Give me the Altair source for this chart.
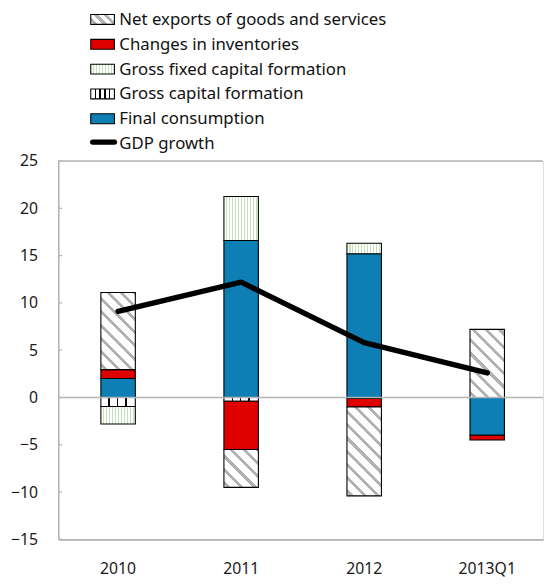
import math
import altair as alt
import pandas as pd

# ---------------- data ----------------
categories = ["2010", "2011", "2012", "2013Q1"]
final_consumption = [2.0, 16.6, 15.2, -4.0]
gross_capital_formation = [-0.95, -0.4, -0.1, 0.0]
gross_fixed_capital_formation = [-1.85, 4.65, 1.1, 0.0]
changes_in_inventories = [0.95, -5.1, -0.9, -0.5]
net_exports = [8.15, -4.0, -9.4, 7.2]
gdp_growth = [9.1, 12.2, 5.8, 2.6]
y_ticks = [-15, -10, -5, 0, 5, 10, 15, 20, 25]

series_names = [
    "Final consumption",
    "Gross capital formation",
    "Gross fixed capital formation",
    "Changes in inventories",
    "Net exports of goods and services",
]
series_values = [
    final_consumption,
    gross_capital_formation,
    gross_fixed_capital_formation,
    changes_in_inventories,
    net_exports,
]
legend_order = [
    "Net exports of goods and services",
    "Changes in inventories",
    "Gross fixed capital formation",
    "Gross capital formation",
    "Final consumption",
    "GDP growth",
]

# ---------------- layout / style ----------------
W, H = 492, 384
Y_MIN, Y_MAX = -15, 25
PX = H / (Y_MAX - Y_MIN)
P_IN, P_OUT, ALIGN = 0.72, 0.33, 0.525
STEP = W / (len(categories) - P_IN + 2 * P_OUT)
BAR_W = STEP * (1 - P_IN)
FONT = "Noto Sans"
AXIS_GRAY = "#b4b4b4"
BLUE = "#0d7fb5"
RED = "#e00000"


def stops_from_bands(bands, length, on, off):
    stops = [{"offset": 0, "color": off}]
    for s, e in bands:
        s0, e0 = max(0.0, s / length), min(1.0, e / length)
        if s0 >= 1:
            break
        stops += [
            {"offset": s0, "color": off},
            {"offset": s0, "color": on},
            {"offset": e0, "color": on},
            {"offset": e0, "color": off},
        ]
    stops.append({"offset": 1, "color": off})
    return stops


def diag_hatch(w, h, period=9.5, thick=3.0, color="#b3b3b3"):
    L = (w + h) / math.sqrt(2)
    bands = []
    k = 0
    while k * period < L:
        bands.append((k * period + 2.0, k * period + 2.0 + thick))
        k += 1
    kk = (w + h) / (w * w + h * h)
    return {
        "gradient": "linear",
        "x1": 0, "y1": 1, "x2": kk * w, "y2": 1 - kk * h,
        "stops": stops_from_bands(bands, L, color, "#ffffff"),
    }


def v_stripes(w, spacing, thick, color):
    bands = []
    x = spacing
    while x < w - 1:
        bands.append((x - thick / 2, x + thick / 2))
        x += spacing
    return {
        "gradient": "linear",
        "x1": 0, "y1": 0, "x2": 1, "y2": 0,
        "stops": stops_from_bands(bands, w, color, "#ffffff"),
    }


def fill_for(name, w, h, legend=False):
    if name == "Final consumption":
        return BLUE
    if name == "Changes in inventories":
        return RED
    if name == "Net exports of goods and services":
        return diag_hatch(w, h, period=7.0 if legend else 9.5)
    if name == "Gross capital formation":
        return v_stripes(w, 4.8 if legend else 8.5, 1.6, "#000000")
    if name == "Gross fixed capital formation":
        return v_stripes(w, 3.0, 1.2, "#c2e2b8")
    return "#ffffff"


# ---------------- stacked bar segments ----------------
rows = []
for ci, cat in enumerate(categories):
    pos, neg = 0.0, 0.0
    for si, name in enumerate(series_names):
        v = series_values[si][ci]
        if v == 0:
            continue
        if v > 0:
            y0, y1 = pos, pos + v
            pos = y1
        else:
            y0, y1 = neg, neg + v
            neg = y1
        rows.append({
            "category": cat, "series": name, "value": v,
            "y0": y0, "y1": y1,
            "fill": fill_for(name, BAR_W, abs(v) * PX),
        })

x_scale = alt.Scale(domain=categories, paddingInner=P_IN, paddingOuter=P_OUT, align=ALIGN)
y_scale = alt.Scale(domain=[Y_MIN, Y_MAX], nice=False, zero=False)

x_enc = alt.X(
    "category:N", sort=categories, scale=x_scale, title=None,
    axis=alt.Axis(labelAngle=0, ticks=False, domainColor=AXIS_GRAY, domainWidth=1.6,
                  labelFontSize=16, labelFont=FONT, labelColor="#1a1a1a", labelPadding=22),
)

bars = alt.Chart(alt.Data(values=rows)).mark_bar(stroke="black", strokeWidth=1.1).encode(
    x=x_enc,
    y=alt.Y("y0:Q", scale=y_scale, title=None,
            axis=alt.Axis(values=y_ticks, ticks=False, grid=False, domainColor=AXIS_GRAY,
                          domainWidth=1.6, labelFontSize=16, labelFont=FONT,
                          labelColor="#1a1a1a", labelPadding=21)),
    y2="y1:Q",
    fill=alt.Fill("fill:N", scale=None),
)

tick_df = pd.DataFrame({"v": y_ticks})
inner_ticks = alt.Chart(tick_df).mark_rule(color=AXIS_GRAY, strokeWidth=1.2).encode(
    y=alt.Y("v:Q", scale=y_scale), x=alt.value(0), x2=alt.value(4)
)

zero_line = alt.Chart(pd.DataFrame({"v": [0]})).mark_rule(color=AXIS_GRAY, strokeWidth=1.6).encode(
    y=alt.Y("v:Q", scale=y_scale), x=alt.value(0), x2=alt.value(W)
)

top_line = alt.Chart(pd.DataFrame({"v": [Y_MAX]})).mark_rule(color=AXIS_GRAY, strokeWidth=1.6).encode(
    y=alt.Y("v:Q", scale=y_scale), x=alt.value(0), x2=alt.value(W)
)

gdp_df = pd.DataFrame({"category": categories, "gdp": gdp_growth})
gdp_line = alt.Chart(gdp_df).mark_line(
    color="black", strokeWidth=5.5, strokeCap="round", strokeJoin="round"
).encode(
    x=alt.X("category:N", sort=categories, scale=x_scale),
    y=alt.Y("gdp:Q", scale=y_scale),
)

# ---------------- manual legend (above the plot) ----------------
ORIGIN_Y = 8 + 151
ORIGIN_X = 8 + 51
legend_layers = []
for i, name in enumerate(legend_order):
    cy = 15.3 + 25.2 * i - ORIGIN_Y
    ix0, ix1 = 92 - ORIGIN_X, 116 - ORIGIN_X
    one = pd.DataFrame({"label": [name]})
    if name == "GDP growth":
        icon = alt.Chart(one).mark_rule(color="black", strokeWidth=5.5, strokeCap="round").encode(
            x=alt.value(ix0 + 2), x2=alt.value(ix1), y=alt.value(cy - 1.5)
        )
    else:
        icon = alt.Chart(one).mark_rect(
            fill=fill_for(name, ix1 - ix0, 10, legend=True), stroke="black", strokeWidth=1.1
        ).encode(x=alt.value(ix0), x2=alt.value(ix1), y=alt.value(cy - 5), y2=alt.value(cy + 5))
    text = alt.Chart(one).mark_text(
        align="left", baseline="middle", font=FONT, fontSize=17, color="#111111"
    ).encode(x=alt.value(121 - ORIGIN_X), y=alt.value(cy + 0.5), text="label:N")
    legend_layers += [icon, text]

chart = alt.layer(
    bars, inner_ticks, zero_line, top_line, gdp_line, *legend_layers
).properties(
    width=W, height=H,
    autosize=alt.AutoSizeParams(type="none"),
    padding={"left": 51, "top": 151, "right": 1, "bottom": 42},
).configure_view(stroke=None).configure(font=FONT)

chart.save("out.html", embed_options={"renderer": "svg", "actions": False})
